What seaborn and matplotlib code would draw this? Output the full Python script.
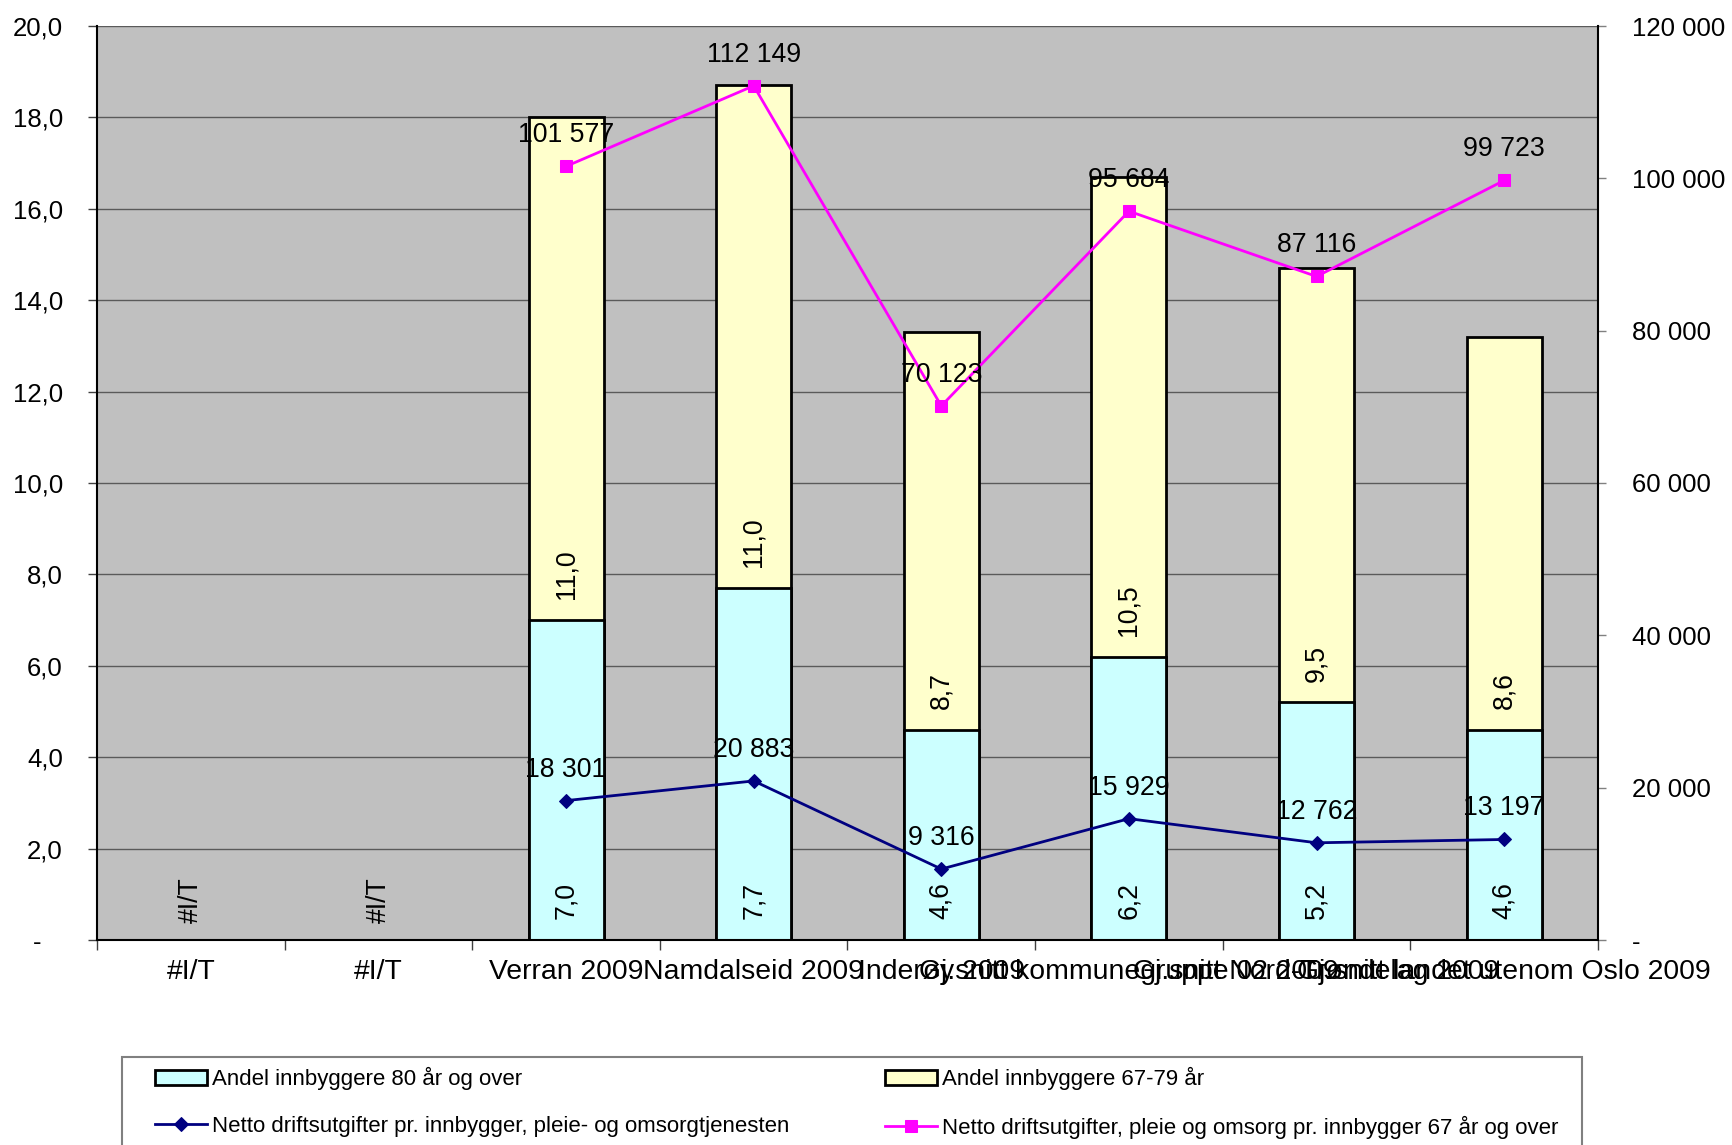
import numpy as np
import pandas as pd
import matplotlib
matplotlib.use("Agg")
import matplotlib.pyplot as plt
from matplotlib.patches import Rectangle
from matplotlib.ticker import FixedLocator, FuncFormatter
import seaborn as sns

plt.rcParams["font.family"] = ["Liberation Sans", "DejaVu Sans"]

categories = ["#I/T", "#I/T", "Verran 2009", "Namdalseid 2009", "Inderøy 2009",
              "Gj.snitt kommunegruppe 02 2009", "Gj.snitt Nord-Trøndelag 2009",
              "Gj.snitt landet utenom Oslo 2009"]
andel_80 = [np.nan, np.nan, 7.0, 7.7, 4.6, 6.2, 5.2, 4.6]
andel_67_79 = [np.nan, np.nan, 11.0, 11.0, 8.7, 10.5, 9.5, 8.6]
netto_pleie = [np.nan, np.nan, 18301, 20883, 9316, 15929, 12762, 13197]
netto_67 = [np.nan, np.nan, 101577, 112149, 70123, 95684, 87116, 99723]

lbl_80 = "Andel innbyggere 80 år og over"
lbl_6779 = "Andel innbyggere 67-79 år"
lbl_pleie = "Netto driftsutgifter pr. innbygger, pleie- og omsorgtjenesten"
lbl_67 = "Netto driftsutgifter, pleie og omsorg pr. innbygger 67 år og over"

df = pd.DataFrame({"pos": range(len(categories)), "a80": andel_80, "a6779": andel_67_79,
                   "pleie": netto_pleie, "n67": netto_67})
df["total"] = df.a80 + df.a6779

W, H = 1733, 1145
FS = 18.5
FS_LBL = 19.2


def nok(v):
    return f"{v:,.0f}".replace(",", " ")


fig = plt.figure(figsize=(W / 100, H / 100), dpi=100)
ax = fig.add_axes([97 / W, 1 - 940 / H, (1598 - 97) / W, (940 - 26) / H])
ax.set_facecolor("#C0C0C0")
ax.set_axisbelow(True)

order = list(range(len(categories)))
# stacked bars: full height in yellow, the 80+ part drawn over it
sns.barplot(data=df, x="pos", y="total", order=order, color="#FFFFCC", saturation=1,
            edgecolor="black", linewidth=2, width=0.4, errorbar=None, ax=ax)
sns.barplot(data=df, x="pos", y="a80", order=order, color="#CCFFFF", saturation=1,
            edgecolor="black", linewidth=2, width=0.4, errorbar=None, ax=ax)

ax2 = ax.twinx()
sns.lineplot(data=df, x="pos", y="pleie", color="#000080", marker="D", markersize=7,
             markeredgecolor="#000080", linewidth=2, errorbar=None, ax=ax2)
sns.lineplot(data=df, x="pos", y="n67", color="#FF00FF", marker="s", markersize=8.5,
             markeredgecolor="#FF00FF", linewidth=2, errorbar=None, ax=ax2)

# data labels
for i in order:
    if np.isnan(andel_80[i]):
        ax.annotate("#I/T", (i, 0), xytext=(0, 12), textcoords="offset points",
                    rotation=90, ha="center", va="bottom", fontsize=FS_LBL)
        continue
    ax.annotate(f"{andel_80[i]:.1f}".replace(".", ","), (i, 0), xytext=(0, 15),
                textcoords="offset points", rotation=90, ha="center", va="bottom", fontsize=FS_LBL)
    ax.annotate(f"{andel_67_79[i]:.1f}".replace(".", ","), (i, andel_80[i]), xytext=(0, 15),
                textcoords="offset points", rotation=90, ha="center", va="bottom", fontsize=FS_LBL)
    for vals in (netto_pleie, netto_67):
        ax2.annotate(nok(vals[i]), (i, vals[i]), xytext=(0, 13), textcoords="offset points",
                     ha="center", va="bottom", fontsize=FS_LBL)

# axes styling
ax.set_ylim(0, 20)
ax2.set_ylim(0, 120000)
ax.set_xlim(-0.5, len(categories) - 0.5)
ax.set_yticks(np.arange(0, 21, 2))
ax.yaxis.set_major_formatter(FuncFormatter(
    lambda v, p: "-   " if v == 0 else f"{v:.1f}".replace(".", ",")))
ax2.set_yticks(np.arange(0, 120001, 20000))
ax2.yaxis.set_major_formatter(FuncFormatter(lambda v, p: "-" if v == 0 else nok(v)))
ax.yaxis.grid(True, color="#5a5a5a", linewidth=1)

ax.set_xticks(order)
ax.set_xticklabels(categories)
ax.xaxis.set_minor_locator(FixedLocator(np.arange(-0.5, len(categories), 1)))
ax.tick_params(axis="x", which="major", length=0, pad=14, labelsize=20.4)
ax.tick_params(axis="x", which="minor", length=7, width=1, color="#404040", direction="out")
ax.tick_params(axis="y", length=6.5, width=1, color="#404040", pad=18, labelsize=FS)
ax2.tick_params(axis="y", length=6, width=1, color="#808080", pad=18.5, labelsize=FS)
ax.set_xlabel("")
ax.set_ylabel("")
ax2.set_xlabel("")
ax2.set_ylabel("")

for s in ("top", "right"):
    ax.spines[s].set_visible(False)
for s in ("top", "left", "bottom"):
    ax2.spines[s].set_visible(False)
for sp in (ax.spines["left"], ax.spines["bottom"], ax2.spines["right"]):
    sp.set_color("black")
    sp.set_linewidth(1.5)

# legend with its own frame, running off the bottom edge
fig.patches.append(Rectangle((122 / W, -0.05), (1582 - 122) / W, 0.05 + 1 - 1057 / H,
                             transform=fig.transFigure, facecolor="white",
                             edgecolor="#808080", linewidth=1.5, zorder=0))
handles = [ax.containers[1], ax2.lines[0], ax.containers[0], ax2.lines[1]]
labels = [lbl_80, lbl_pleie, lbl_6779, lbl_67]
fig.legend(handles, labels, loc="upper left", ncol=2, mode="expand",
           bbox_to_anchor=(155 / W, 1 - 1067 / H, (1558 - 155) / W, 0),
           frameon=False, fontsize=16, borderpad=0, borderaxespad=0,
           handlelength=2.35, handletextpad=0.22, labelspacing=1.15)

fig.savefig("out.png", dpi=100)
